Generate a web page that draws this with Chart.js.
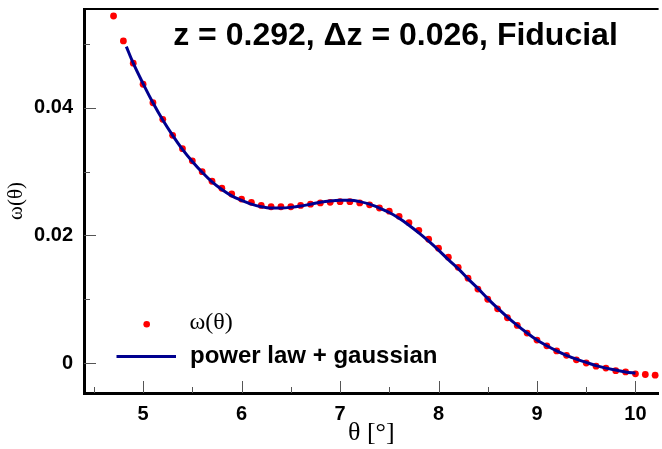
<!DOCTYPE html>
<html><head><meta charset="utf-8">
<script src="https://cdn.jsdelivr.net/npm/chart.js@4.4.1/dist/chart.umd.min.js"></script>
<style>html,body{margin:0;padding:0;background:#fff;overflow:hidden}canvas{display:block}</style>
</head><body>
<canvas id="c" width="662" height="449"></canvas>
<script>
const thetaPoints = [4.7,4.8,4.9,5.0,5.1,5.2,5.3,5.4,5.5,5.6,5.7,5.8,5.9,6.0,6.1,6.2,6.3,6.4,6.5,6.6,6.7,6.8,6.9,7.0,7.1,7.2,7.3,7.4,7.5,7.6,7.7,7.8,7.9,8.0,8.1,8.2,8.3,8.4,8.5,8.6,8.7,8.8,8.9,9.0,9.1,9.2,9.3,9.4,9.5,9.6,9.7,9.8,9.9,10.0,10.1,10.2];
const omegaPoints = [0.0544,0.0505,0.0470,0.0437,0.0408,0.0382,0.0357,0.0336,0.0317,0.0300,0.0285,0.0274,0.0265,0.0257,0.0252,0.0247,0.0245,0.0245,0.0245,0.0247,0.0249,0.0251,0.0252,0.0253,0.0253,0.0251,0.0248,0.0243,0.0238,0.0230,0.0220,0.0208,0.0194,0.0180,0.0166,0.0150,0.0133,0.0116,0.0100,0.0085,0.0071,0.0059,0.0047,0.0036,0.0027,0.0019,0.0012,0.0005,0.0000,-0.0005,-0.0008,-0.0012,-0.0014,-0.0017,-0.0018,-0.0019];
const thetaFit = [4.83,4.9,5.0,5.1,5.2,5.3,5.4,5.5,5.6,5.7,5.8,5.9,6.0,6.1,6.2,6.3,6.4,6.5,6.6,6.7,6.8,6.9,7.0,7.1,7.2,7.3,7.4,7.5,7.6,7.7,7.8,7.9,8.0,8.1,8.2,8.3,8.4,8.5,8.6,8.7,8.8,8.9,9.0,9.1,9.2,9.3,9.4,9.5,9.6,9.7,9.8,9.9,10.0];
const omegaFit = [0.0496,0.0470,0.0438,0.0408,0.0381,0.0357,0.0335,0.0316,0.0299,0.0284,0.0272,0.0262,0.0255,0.0249,0.0245,0.0243,0.0243,0.0244,0.0246,0.0249,0.0252,0.0254,0.0255,0.0255,0.0253,0.0249,0.0243,0.0236,0.0227,0.0216,0.0204,0.0191,0.0177,0.0162,0.0148,0.0132,0.0117,0.0101,0.0086,0.0072,0.0059,0.0047,0.0036,0.0027,0.0019,0.0012,0.0006,0.0001,-0.0004,-0.0008,-0.0011,-0.0014,-0.0016];
const xTickValues = [5,6,7,8,9,10];
const xTickLabels = ['5','6','7','8','9','10'];
const xMinorTicks = [4.5,5.5,6.5,7.5,8.5,9.5];
const yTickValues = [0,0.02,0.04];
const yTickLabels = ['0','0.02','0.04'];
const yMinorTicks = [0.01,0.03,0.05];
const titleText = 'z = 0.292, \u0394z = 0.026, Fiducial';
const legendPoints = '\u03c9(\u03b8)';
const legendFit = 'power law + gaussian';
const xTitle = '\u03b8 [\u00b0]';
const yTitle = '\u03c9(\u03b8)';

const SANS = "'Liberation Sans', Arial, Helvetica, sans-serif";
const SERIF = "'Liberation Serif', 'Times New Roman', serif";
const RED = '#ff0000';
const BLUE = '#00008f';

const framePlugin = {
  id: 'frame',
  beforeDatasetsDraw(chart) {
    const {ctx, chartArea: a, scales: {x, y}} = chart;
    ctx.save();
    ctx.strokeStyle = '#555';
    ctx.lineWidth = 1;
    xTickValues.forEach(v => { const px = Math.round(x.getPixelForValue(v)) + 0.5; ctx.beginPath(); ctx.moveTo(px, a.bottom); ctx.lineTo(px, a.bottom - 12); ctx.stroke(); });
    xMinorTicks.forEach(v => { const px = Math.round(x.getPixelForValue(v)) + 0.5; ctx.beginPath(); ctx.moveTo(px, a.bottom); ctx.lineTo(px, a.bottom - 6); ctx.stroke(); });
    yTickValues.forEach(v => { const py = Math.round(y.getPixelForValue(v)) + 0.5; ctx.beginPath(); ctx.moveTo(a.left, py); ctx.lineTo(a.left + 12, py); ctx.stroke(); });
    yMinorTicks.forEach(v => { const py = Math.round(y.getPixelForValue(v)) + 0.5; ctx.beginPath(); ctx.moveTo(a.left, py); ctx.lineTo(a.left + 6, py); ctx.stroke(); });
    ctx.strokeStyle = '#000';
    ctx.lineWidth = 2;
    ctx.beginPath(); ctx.moveTo(a.left, a.top); ctx.lineTo(a.right, a.top); ctx.stroke();
    ctx.restore();
  },
  afterDraw(chart) {
    const {ctx} = chart;
    const ds0 = chart.data.datasets[0], ds1 = chart.data.datasets[1];
    ctx.save();
    ctx.fillStyle = '#000';
    ctx.font = 'bold 32px ' + SANS;
    ctx.textAlign = 'center';
    ctx.textBaseline = 'alphabetic';
    ctx.fillText(titleText, 395.5, 45);
    // legend
    ctx.fillStyle = ds1.backgroundColor;
    ctx.beginPath(); ctx.arc(146.7, 324.3, 3.3, 0, Math.PI * 2); ctx.fill();
    ctx.strokeStyle = ds0.borderColor;
    ctx.lineWidth = ds0.borderWidth;
    ctx.beginPath(); ctx.moveTo(116.5, 356.5); ctx.lineTo(176, 356.5); ctx.stroke();
    ctx.fillStyle = '#000';
    ctx.textAlign = 'left';
    ctx.font = '24px ' + SERIF;
    ctx.fillText(legendPoints, 189.5, 329);
    ctx.font = 'bold 24px ' + SANS;
    ctx.fillText(legendFit, 190, 363);
    ctx.restore();
  }
};

new Chart(document.getElementById('c'), {
  type: 'scatter',
  data: {
    datasets: [
      {
        label: legendFit,
        data: thetaFit.map((t, i) => ({x: t, y: omegaFit[i]})),
        showLine: true,
        borderColor: BLUE,
        backgroundColor: BLUE,
        borderWidth: 3,
        pointRadius: 0,
        cubicInterpolationMode: 'monotone',
        fill: false
      },
      {
        label: legendPoints,
        data: thetaPoints.map((t, i) => ({x: t, y: omegaPoints[i]})),
        showLine: false,
        backgroundColor: RED,
        borderColor: RED,
        borderWidth: 0,
        pointRadius: 3.4,
        pointHoverRadius: 3.4
      }
    ]
  },
  options: {
    responsive: false,
    devicePixelRatio: 1,
    animation: false,
    events: [],
    clip: false,
    layout: {padding: {left: 0, top: 9, right: 0, bottom: 0}},
    plugins: {legend: {display: false}, tooltip: {enabled: false}, title: {display: false}},
    scales: {
      x: {
        type: 'linear',
        position: 'bottom',
        min: 4.4,
        max: 10.235,
        afterBuildTicks: s => { s.ticks = xTickValues.map(v => ({value: v})); },
        afterFit: s => { s.height = 56; s.paddingLeft = 0; s.paddingRight = 0; },
        ticks: {
          callback: (v, i) => xTickLabels[i],
          font: {family: SANS, size: 20, weight: 'bold'},
          color: '#000',
          padding: 9,
          maxRotation: 0,
          autoSkip: false
        },
        grid: {drawOnChartArea: false, drawTicks: false},
        border: {display: true, color: '#000', width: 3},
        title: {display: true, text: xTitle, color: '#000', font: {family: SERIF, size: 26}, padding: {top: 0, bottom: 0}}
      },
      y: {
        type: 'linear',
        position: 'left',
        min: -0.0047,
        max: 0.0555,
        afterBuildTicks: s => { s.ticks = yTickValues.map(v => ({value: v})); },
        afterFit: s => { s.width = 84; s.paddingTop = 0; s.paddingBottom = 0; },
        ticks: {
          callback: (v, i) => yTickLabels[i],
          font: {family: SANS, size: 20, weight: 'bold'},
          color: '#000',
          padding: 11,
          autoSkip: false
        },
        grid: {drawOnChartArea: false, drawTicks: false},
        border: {display: true, color: '#000', width: 3},
        title: {display: true, text: yTitle, color: '#000', font: {family: SERIF, size: 21}, padding: {top: 4, bottom: 0}}
      }
    }
  },
  plugins: [framePlugin]
});
</script>
</body></html>
